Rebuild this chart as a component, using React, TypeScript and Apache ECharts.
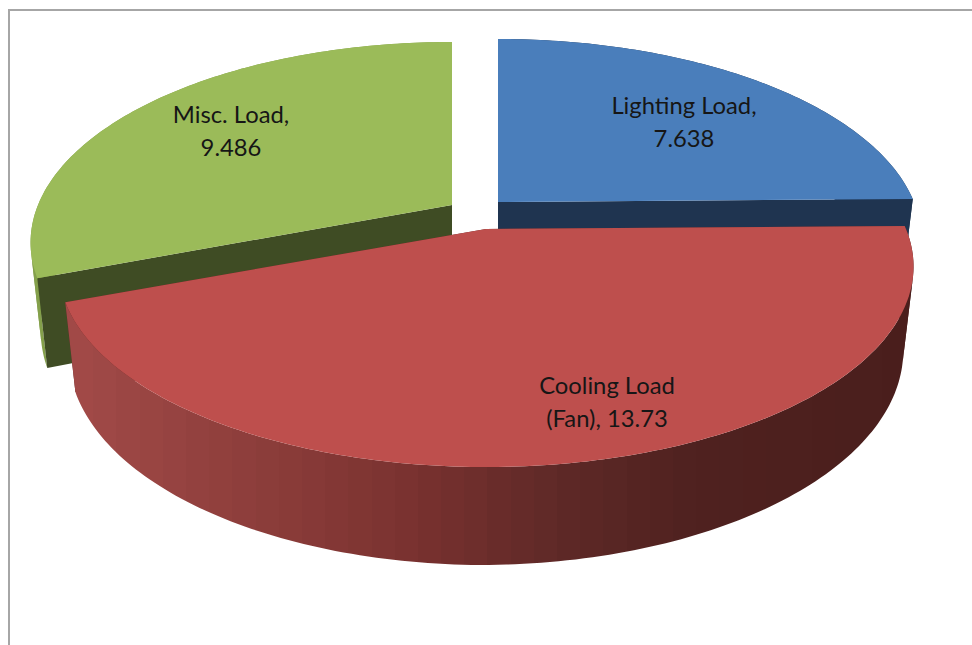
import React, { useEffect, useRef } from "react";
import * as echarts from "echarts";

const categories = ["Lighting Load", "Cooling Load", "Misc. Load"];
const loads = [7.638, 13.73, 9.486];
const labelTexts = ["Lighting Load,\n7.638", "Cooling Load\n(Fan), 13.73", "Misc. Load,\n9.486"];

const WIDTH = 972;
const HEIGHT = 645;

// Perspective disc: vertical radius, foreshortening and wall depth.
const RY = 193.5;
const K = 0.187;
const DEPTH = 85.5;
const DEPTH_SLOPE = 12.5;
const DEPTH_RIGHT_TRIM = 4;
const BOTTOM_SCALE = 0.976;

type SliceStyle = {
  apex: [number, number];
  rx: number;
  label: [number, number];
  top: string;
  cut: string;
  wall: any;
  paint: number;
  cutInFront: boolean;
};

// Stepped horizontal shading, so the curved wall shows fine vertical bands.
function bandedWall(x0: number, x1: number, anchors: [number, number[]][], bands: number) {
  const colorAt = (t: number) => {
    let j = 0;
    while (j < anchors.length - 2 && t > anchors[j + 1][0]) j++;
    const [a, ca] = anchors[j];
    const [b, cb] = anchors[j + 1];
    const f = Math.min(1, Math.max(0, (t - a) / (b - a)));
    const c = ca.map((v, n) => Math.round(v + (cb[n] - v) * f));
    return `rgb(${c[0]},${c[1]},${c[2]})`;
  };
  const colorStops: { offset: number; color: string }[] = [];
  for (let i = 0; i < bands; i++) {
    const color = colorAt((i + 0.5) / bands);
    colorStops.push({ offset: i / bands, color }, { offset: (i + 1) / bands, color });
  }
  return { type: "linear", global: true, x: x0, y: 0, x2: x1, y2: 0, colorStops };
}

const sliceStyles: SliceStyle[] = [
  {
    apex: [498, 202],
    rx: 416,
    label: [684, 121],
    top: "#4a7ebb",
    cut: "#1f3450",
    wall: "#1f3450",
    paint: 0,
    cutInFront: true,
  },
  {
    apex: [486, 229],
    rx: 420,
    label: [607, 401],
    top: "#be4f4d",
    cut: "#5e2826",
    wall: bandedWall(
      70,
      905,
      [
        [0, [162, 74, 72]],
        [0.25, [138, 60, 57]],
        [0.4, [122, 50, 48]],
        [0.6, [93, 40, 38]],
        [0.75, [79, 33, 31]],
        [1, [74, 30, 28]],
      ],
      36
    ),
    paint: 20,
    cutInFront: false,
  },
  {
    apex: [452, 205],
    rx: 414,
    label: [231, 130],
    top: "#9bbb59",
    cut: "#3f4c24",
    wall: "#84a04b",
    paint: 10,
    cutInFront: true,
  },
];

// Projects a unit-disc point (clockwise angle from 12 o'clock) onto the page.
function topPoint(s: SliceStyle, theta: number, r = 1): [number, number] {
  const u = r * Math.sin(theta);
  const v = -r * Math.cos(theta);
  const w = 1 - K * v;
  return [s.apex[0] + (s.rx * u) / w, s.apex[1] + (RY * v) / w];
}

function bottomPoint(s: SliceStyle, theta: number, r = 1): [number, number] {
  const [x, y] = topPoint(s, theta, r);
  const u = r * Math.sin(theta);
  const v = -r * Math.cos(theta);
  return [
    s.apex[0] + (x - s.apex[0]) * BOTTOM_SCALE,
    y + DEPTH + DEPTH_SLOPE * v - DEPTH_RIGHT_TRIM * Math.max(0, u),
  ];
}

function arcAngles(start: number, end: number): number[] {
  const steps = Math.max(2, Math.ceil((end - start) / (Math.PI / 180)));
  const out: number[] = [];
  for (let i = 0; i <= steps; i++) out.push(start + ((end - start) * i) / steps);
  return out;
}

// Splits the curved wall where it folds over its silhouette, so each part
// winds one way and fills solidly.
function wallRuns(s: SliceStyle, angles: number[]): [number, number][][] {
  const tops = angles.map((t) => topPoint(s, t));
  const bots = angles.map((t) => bottomPoint(s, t));
  const quadSign = (i: number) => {
    const poly = [tops[i], tops[i + 1], bots[i + 1], bots[i]];
    let area = 0;
    for (let n = 0; n < 4; n++) {
      const p = poly[n];
      const q = poly[(n + 1) % 4];
      area += p[0] * q[1] - q[0] * p[1];
    }
    return area >= 0 ? 1 : -1;
  };
  const runs: [number, number][][] = [];
  let from = 0;
  for (let i = 1; i <= angles.length - 1; i++) {
    if (i === angles.length - 1 || quadSign(i) !== quadSign(from)) {
      runs.push([...tops.slice(from, i + 1), ...bots.slice(from, i + 1).reverse()]);
      from = i;
    }
  }
  return runs;
}

const total = loads.reduce((a, b) => a + b, 0);

function renderSlice(params: any, api: any) {
  const i = params.dataIndex;
  const value = api.value(0);
  const before = loads.slice(0, i).reduce((a, b) => a + b, 0);
  const start = (before / total) * Math.PI * 2;
  const end = start + (value / total) * Math.PI * 2;
  const s = sliceStyles[i];
  const angles = arcAngles(start, end);
  const rimTop = angles.map((t) => topPoint(s, t));
  const apexBottom = bottomPoint(s, 0, 0);
  const cutZ = s.cutInFront ? s.paint + 1 : s.paint;
  const rimZ = s.cutInFront ? s.paint : s.paint + 1;

  const cutWall = (t: number) => ({
    type: "polygon",
    z2: cutZ,
    shape: { points: [s.apex, topPoint(s, t), bottomPoint(s, t), apexBottom] },
    style: { fill: s.cut },
  });

  return {
    type: "group",
    children: [
      ...wallRuns(s, angles).map((points) => ({
        type: "polygon",
        z2: rimZ,
        shape: { points },
        style: { fill: s.wall },
      })),
      cutWall(start),
      cutWall(end),
      {
        type: "polygon",
        z2: s.paint + 2,
        shape: { points: [s.apex, ...rimTop] },
        style: { fill: s.top },
      },
      {
        type: "text",
        z2: 50,
        style: {
          text: labelTexts[i],
          x: s.label[0],
          y: s.label[1],
          fill: "#161616",
          align: "center",
          verticalAlign: "middle",
          font: '23.8px Lato, "Open Sans", sans-serif',
          lineHeight: 33,
        },
      },
    ],
  };
}

export default function App() {
  const ref = useRef<HTMLDivElement>(null);
  useEffect(() => {
    document.body.style.margin = "0";
    const chart = echarts.init(ref.current!, undefined, { renderer: "svg" });
    chart.setOption({
      animation: false,
      backgroundColor: "#ffffff",
      graphic: [
        {
          type: "rect",
          shape: { x: 9, y: 10, width: 972, height: 660 },
          style: { fill: "none", stroke: "#a6a6a6", lineWidth: 2 },
          silent: true,
        },
      ],
      series: [
        {
          type: "custom",
          coordinateSystem: "none",
          renderItem: renderSlice,
          data: categories.map((name, i) => ({ name, value: [loads[i]] })),
        },
      ],
    });
    return () => chart.dispose();
  }, []);
  return <div ref={ref} style={{ width: WIDTH, height: HEIGHT }} />;
}
